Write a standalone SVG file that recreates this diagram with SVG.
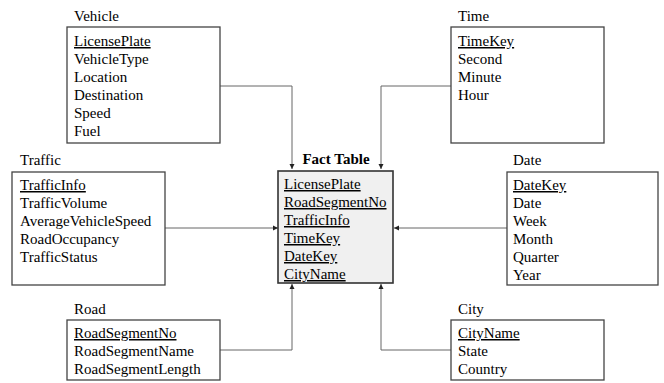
<svg xmlns="http://www.w3.org/2000/svg" width="664" height="383" viewBox="0 0 664 383">
<style>
text{font-family:"Liberation Serif","Times New Roman",serif;font-size:15px;fill:#000}
.box{fill:#fff;stroke:#444;stroke-width:1.3}
.fact{fill:#f0f0f0;stroke:#333;stroke-width:1.6}
.key{text-decoration:underline}
.bold{font-weight:bold}
.conn{fill:none;stroke:#666;stroke-width:1}
</style>
<defs>
<marker id="ah" markerWidth="6" markerHeight="6" refX="5" refY="3" orient="auto" markerUnits="userSpaceOnUse">
<path d="M0,0.5 L5,3 L0,5.5 Z" fill="#222"/>
</marker>
</defs>
<g id="connectors">
<path class="conn" d="M220,86 H292 V169" marker-end="url(#ah)"/>
<path class="conn" d="M451,86 H381 V169" marker-end="url(#ah)"/>
<path class="conn" d="M165,228 H278" marker-end="url(#ah)"/>
<path class="conn" d="M507,228 H394" marker-end="url(#ah)"/>
<path class="conn" d="M220,350 H292 V284" marker-end="url(#ah)"/>
<path class="conn" d="M451,350 H381 V284" marker-end="url(#ah)"/>
</g>
<g id="vehicle">
<text x="74" y="21">Vehicle</text>
<rect class="box" x="67" y="27" width="153" height="116"/>
<text x="74" y="46" class="key">LicensePlate</text>
<text x="74" y="64">VehicleType</text>
<text x="74" y="82">Location</text>
<text x="74" y="100">Destination</text>
<text x="74" y="118">Speed</text>
<text x="74" y="136">Fuel</text>
</g>
<g id="time">
<text x="458" y="21">Time</text>
<rect class="box" x="451" y="27" width="153" height="116"/>
<text x="458" y="46" class="key">TimeKey</text>
<text x="458" y="64">Second</text>
<text x="458" y="82">Minute</text>
<text x="458" y="100">Hour</text>
</g>
<g id="fact">
<text x="336" y="164" class="bold" text-anchor="middle">Fact Table</text>
<rect class="fact" x="278" y="171" width="115" height="112"/>
<text x="284" y="189" class="key">LicensePlate</text>
<text x="284" y="207" class="key">RoadSegmentNo</text>
<text x="284" y="225" class="key">TrafficInfo</text>
<text x="284" y="243" class="key">TimeKey</text>
<text x="284" y="261" class="key">DateKey</text>
<text x="284" y="279" class="key">CityName</text>
</g>
<g id="traffic">
<text x="20" y="165">Traffic</text>
<rect class="box" x="12" y="172" width="153" height="113"/>
<text x="20" y="190" class="key">TrafficInfo</text>
<text x="20" y="208">TrafficVolume</text>
<text x="20" y="226">AverageVehicleSpeed</text>
<text x="20" y="244">RoadOccupancy</text>
<text x="20" y="262">TrafficStatus</text>
</g>
<g id="date">
<text x="513" y="165">Date</text>
<rect class="box" x="507" y="172" width="151" height="113"/>
<text x="513" y="190" class="key">DateKey</text>
<text x="513" y="208">Date</text>
<text x="513" y="226">Week</text>
<text x="513" y="244">Month</text>
<text x="513" y="262">Quarter</text>
<text x="513" y="280">Year</text>
</g>
<g id="road">
<text x="74" y="314">Road</text>
<rect class="box" x="67" y="320" width="153" height="60"/>
<text x="74" y="338" class="key">RoadSegmentNo</text>
<text x="74" y="356">RoadSegmentName</text>
<text x="74" y="374">RoadSegmentLength</text>
</g>
<g id="city">
<text x="458" y="314">City</text>
<rect class="box" x="451" y="320" width="153" height="60"/>
<text x="458" y="338" class="key">CityName</text>
<text x="458" y="356">State</text>
<text x="458" y="374">Country</text>
</g>
</svg>
